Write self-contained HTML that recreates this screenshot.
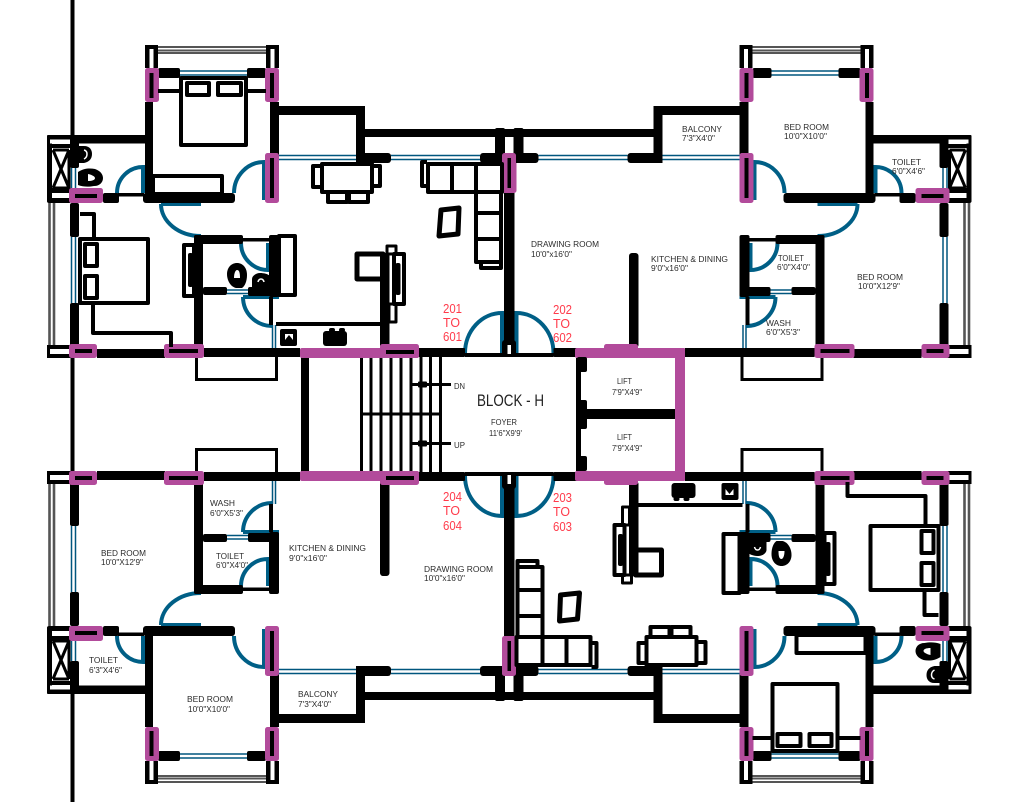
<!DOCTYPE html>
<html><head><meta charset="utf-8"><style>
html,body{margin:0;padding:0;background:#fff}
svg{display:block}
.l{font-family:"Liberation Sans",sans-serif;font-size:8.5px;fill:#2c2c2c}
.r{font-family:"Liberation Sans",sans-serif;font-size:13px;fill:#ff3b4b}
</style></head><body>
<svg width="1012" height="802" viewBox="0 0 1012 802" xmlns="http://www.w3.org/2000/svg">
<defs>
<g id="u">
 <!-- railings -->
 <g stroke="#555" stroke-width="2" fill="none">
  <path d="M158 47H266M158 50.5H266M158 53H266"/>
  <path d="M49.5 203V345M54 203V345" stroke-width="2.6"/>
 </g>
 <!-- blue windows -->
 <g stroke="#00567e" stroke-width="1.5" fill="none">
  <path d="M180 71H247M180 75H247"/>
  <path d="M279 155.500H357M279 159.500H357M391 155.500H480M391 159.500H480"/>
  <path d="M71.500 237V303M75.500 237V303M71.500 168V188M75.500 168V188"/>
  <path d="M227 290H248M227 293.500H248M272.500 325V348M275.500 325V348"/>
 </g>
 <!-- doors -->
 <g stroke="#005f86" stroke-width="4" fill="none">
  <path d="M117 193A26 26 0 0 1 143 167V193"/>
  <path d="M234 193A30 31 0 0 1 264 162V200"/>
  <path d="M161 204A40 32 0 0 0 201 236M161 204H201"/>
  <path d="M241 243A27 27 0 0 0 268 270V243"/>
  <path d="M243 297A29 29 0 0 0 272 326M243 297H279"/>
  <path d="M465 353A37 40 0 0 1 502 313V353"/>
 </g>
 <!-- walls -->
 <g fill="#000">
  <path d="M145 45H158V68H145ZM149.500 49V68H153.500V49Z" fill-rule="evenodd"/>
  <path d="M266 45H279V68H266ZM270.500 49V68H274.500V49Z" fill-rule="evenodd"/>
  <rect x="158" y="68" width="22" height="10" rx="2"/><rect x="247" y="68" width="19" height="10" rx="2"/>
  <rect x="145" y="102" width="8" height="98"/>
  <rect x="270" y="102" width="9" height="58"/>
  <rect x="270" y="106" width="95" height="9" rx="1"/>
  <rect x="356" y="106" width="9" height="57"/>
  <rect x="356" y="153" width="35" height="10" rx="3"/>
  <rect x="360" y="129" width="150" height="8"/>
  <rect x="480" y="153" width="30" height="10" rx="3"/>
  <rect x="495" y="128" width="10" height="30" rx="2"/>
  <rect x="504" y="193" width="6" height="155"/>
  <rect x="47" y="135" width="105" height="8.500" rx="2"/>
  <rect x="47" y="135" width="5" height="67" rx="1"/>
  <rect x="70" y="138" width="9" height="30" rx="2"/>
  <rect x="47" y="144" width="23" height="4"/>
  <rect x="47" y="188" width="24" height="5"/><rect x="47" y="198" width="24" height="5" rx="2"/>
  <rect x="103" y="193" width="16" height="10" rx="2"/>
  <rect x="118" y="193" width="26" height="3.500"/>
  <rect x="143" y="193" width="92" height="10" rx="3"/>
  <rect x="70" y="203" width="9" height="34" rx="2"/>
  <rect x="70" y="303" width="9" height="43" rx="2"/>
  <rect x="47" y="345" width="24" height="4"/><rect x="47" y="354" width="24" height="4"/><rect x="47" y="345" width="3" height="13" rx="1"/>
  <rect x="194" y="235" width="9" height="112" rx="2"/>
  <rect x="194" y="235" width="49" height="9" rx="2"/>
  <rect x="243" y="238" width="27" height="3.500"/>
  <rect x="269" y="235" width="10" height="62" rx="2"/>
  <rect x="203" y="287" width="24" height="8" rx="2"/>
  <rect x="248" y="287" width="31" height="9" rx="2"/>
  <rect x="269" y="297" width="4" height="28"/>
  <rect x="380" y="253" width="9.500" height="95" rx="3"/>
  <rect x="97" y="349" width="68" height="9"/>
  <rect x="204" y="348" width="96" height="9"/>
  <rect x="415" y="348" width="50" height="9" rx="1"/>
  <rect x="465" y="353" width="45" height="4"/>
  <rect x="502.500" y="340" width="14" height="16" rx="3"/>
  <rect x="195" y="357" width="3" height="24"/><rect x="275" y="357" width="3" height="24"/><rect x="195" y="378" width="83" height="3" rx="1"/>
 </g>
 <rect x="507.500" y="345" width="3.500" height="9" fill="#fff"/>
 <rect x="505" y="140" width="5" height="13" fill="#fff"/>
 <rect x="50" y="139.500" width="20" height="4" fill="#fff"/>
 <!-- shaft X -->
 <g stroke="#000" stroke-width="3" fill="none"><path d="M53 150L69 188M69 150L53 188M53 150H69M53 188H69M69 150V188"/></g>
 <!-- magenta -->
 <g fill="#b24b9b">
  <rect x="145" y="68" width="14" height="34" rx="2.500"/><rect x="265" y="68" width="14" height="34" rx="2.500"/>
  <rect x="265" y="153" width="14" height="50" rx="2.500"/>
  <rect x="69" y="188" width="34" height="15" rx="2.500"/>
  <rect x="69" y="344" width="28" height="14" rx="2.500"/>
  <rect x="164" y="344" width="40" height="14" rx="2.500"/>
  <rect x="502.500" y="153" width="14" height="40" rx="2.500"/>
 </g>
 <g fill="#000">
  <rect x="149.500" y="73" width="4" height="25"/><rect x="270" y="73" width="4" height="25"/>
  <rect x="270" y="158" width="4" height="40"/>
  <rect x="75" y="194" width="22" height="4"/>
  <rect x="75" y="349" width="17" height="4"/>
  <rect x="169" y="349" width="29" height="4"/>
  <rect x="507.500" y="158" width="3.500" height="30"/>
 </g>
</g>
<g id="f">
 <g fill="none" stroke="#000" stroke-width="4" stroke-linejoin="round">
  <rect x="181" y="78" width="65" height="67"/>
  <rect x="187" y="83" width="22" height="12"/><rect x="218" y="83" width="23" height="12"/>
  <path d="M158 91H181M247 91H266"/>
  <rect x="153" y="176" width="69" height="18"/>
  <rect x="80" y="239" width="68" height="64"/>
  <rect x="85" y="244" width="12" height="22"/><rect x="85" y="276" width="12" height="22"/>
  <path d="M80 214H94V238M93 303V333H171V347"/>
  <rect x="322" y="164" width="50" height="28"/>
  <rect x="313" y="166" width="9" height="21"/><rect x="372" y="166" width="8" height="20"/>
  <rect x="328" y="192" width="19" height="10"/><rect x="349" y="192" width="19" height="10"/>
  <rect x="428" y="164" width="74" height="28"/>
  <path d="M452 164V192M476 164V262M476 192V262H502M476 213H502M476 239H502M501 192V268H481V262"/>
  <path d="M427 162H422V186H428"/>
  <path d="M441 210L459 208L458 234L439 236Z" stroke-width="5"/>
  <rect x="357" y="254" width="26" height="25" stroke-width="5"/>
  <rect x="394" y="254" width="10" height="50"/>
  <rect x="387" y="246" width="9" height="8" stroke-width="3"/><rect x="389" y="304" width="7" height="18" stroke-width="3"/>
  <rect x="279" y="236" width="16" height="59"/>
  <rect x="184" y="245" width="10" height="51"/>
 </g>
 <g fill="#000">
  <rect x="395.500" y="263" width="5" height="32" rx="2"/>
  <rect x="276" y="322" width="104" height="4"/>
  <rect x="280" y="329" width="17" height="17" rx="2"/>
  <rect x="323" y="331" width="24" height="15" rx="3"/>
  <rect x="329" y="328" width="6" height="4" rx="2"/><rect x="339" y="328" width="6" height="4" rx="2"/>
  <rect x="188" y="253" width="5" height="34" rx="2"/>
  <path d="M237 263C231 263 227 268 227 274C227 281 231 287 236 288H242C245 286 247 281 247 275C247 268 243 263 237 263Z"/>
  <path d="M252 293V279C252 276 256 273 260 273C264 273 268 274 270 276V293Z"/>
  <path d="M78 146H84C90 146 92 150 92 154C92 159 89 162 84 163H78Z"/>
  <path d="M78 172C84 168 90 168 95 169C101 171 103 175 103 178C103 182 100 186 94 186C89 187 83 187 78 185Z"/>
 </g>
 <g fill="#fff">
  <path d="M234 278C234 272 236 270 237 270C239 270 240 272 240 278Z"/>
  <path d="M258 282C259 278 263 278 264 282" stroke="#fff" stroke-width="1.500" fill="none"/>
  <path d="M84 150C88 151 88 157 84 159" fill="none" stroke="#fff" stroke-width="1.500"/>
  <path d="M88 174C93 175 95 177 95 178C95 180 92 181 88 181Z"/>
  <rect x="285" y="334" width="8" height="6"/>
 </g>
 <path d="M285 340L289 335L293 340Z" fill="#000"/>
</g>
</defs>

<g fill="#000">
 <rect x="70.500" y="0" width="4" height="136"/>
 <rect x="70.500" y="357" width="4" height="115"/>
 <rect x="70.500" y="693" width="4" height="109"/>
</g>

<use href="#u"/>
<use href="#u" transform="translate(1018.5 0) scale(-1 1)"/>
<use href="#u" transform="translate(0 829) scale(1 -1)"/>
<use href="#u" transform="translate(1018.5 829) scale(-1 -1)"/>
<use href="#f"/>
<use href="#f" transform="translate(1018.5 829) scale(-1 -1)"/>

<!-- stairs -->
<g fill="#000">
 <rect x="301" y="356" width="8" height="118"/>
 <g stroke="#000" stroke-width="3" fill="none">
  <path d="M361.500 357V472M371 357V472M381 357V472M391 357V472M401 357V472M411 357V472M421 357V472M430.500 357V472M440.500 357V472"/>
  <path d="M361 414H442"/>
  <path d="M412 384.500H451M412 443.500H451"/>
 </g>
 <rect x="418" y="381.500" width="9" height="6" rx="1"/>
 <rect x="418" y="440.500" width="9" height="6" rx="1"/>
</g>
<g fill="#b24b9b">
 <rect x="300" y="348" width="119" height="10" rx="2"/><rect x="380" y="344" width="39" height="14" rx="2.500"/>
 <rect x="300" y="471" width="119" height="10" rx="2"/><rect x="380" y="471" width="39" height="14" rx="2.500"/>
 <rect x="575" y="348" width="110" height="10" rx="2"/><rect x="604" y="344" width="34" height="14" rx="2.500"/>
 <rect x="575" y="471" width="110" height="10" rx="2"/><rect x="604" y="471" width="34" height="14" rx="2.500"/>
 <rect x="675" y="348" width="10" height="133" rx="1"/>
</g>
<g fill="#000">
 <rect x="386" y="350" width="28" height="4"/><rect x="386" y="476" width="28" height="4"/>
 <rect x="685" y="348" width="60" height="9"/><rect x="685" y="472" width="60" height="9"/>
 <rect x="576" y="358" width="5" height="113"/>
 <rect x="577" y="357" width="10" height="15" rx="2"/>
 <rect x="577" y="400" width="10" height="29" rx="2"/>
 <rect x="577" y="456" width="10" height="15" rx="2"/>
 <rect x="586" y="409" width="89" height="10"/>
</g>

<!-- red labels -->
<g class="r">
 <text class="r" x="443" y="313" textLength="19" lengthAdjust="spacingAndGlyphs">201</text>
 <text class="r" x="443" y="327" textLength="17" lengthAdjust="spacingAndGlyphs">TO</text>
 <text class="r" x="443" y="341" textLength="19" lengthAdjust="spacingAndGlyphs">601</text>
 <text class="r" x="553" y="314" textLength="19" lengthAdjust="spacingAndGlyphs">202</text>
 <text class="r" x="553" y="328" textLength="17" lengthAdjust="spacingAndGlyphs">TO</text>
 <text class="r" x="553" y="342" textLength="19" lengthAdjust="spacingAndGlyphs">602</text>
 <text class="r" x="443" y="501" textLength="19" lengthAdjust="spacingAndGlyphs">204</text>
 <text class="r" x="443" y="515" textLength="17" lengthAdjust="spacingAndGlyphs">TO</text>
 <text class="r" x="443" y="530" textLength="19" lengthAdjust="spacingAndGlyphs">604</text>
 <text class="r" x="553" y="502" textLength="19" lengthAdjust="spacingAndGlyphs">203</text>
 <text class="r" x="553" y="516" textLength="17" lengthAdjust="spacingAndGlyphs">TO</text>
 <text class="r" x="553" y="531" textLength="19" lengthAdjust="spacingAndGlyphs">603</text>
</g>

<!-- room labels -->
<text x="477" y="406" font-family="Liberation Sans, sans-serif" font-size="17" fill="#222" textLength="67" lengthAdjust="spacingAndGlyphs">BLOCK - H</text>
<text class="l" x="491" y="425" textLength="26" lengthAdjust="spacingAndGlyphs">FOYER</text>
<text class="l" x="489" y="436" textLength="33" lengthAdjust="spacingAndGlyphs">11'6"X9'9'</text>
<text class="l" x="454" y="389" textLength="11" lengthAdjust="spacingAndGlyphs">DN</text>
<text class="l" x="454" y="448" textLength="11" lengthAdjust="spacingAndGlyphs">UP</text>
<text class="l" x="617" y="384" textLength="15" lengthAdjust="spacingAndGlyphs">LIFT</text>
<text class="l" x="612" y="395" textLength="30" lengthAdjust="spacingAndGlyphs">7'9"X4'9"</text>
<text class="l" x="617" y="440" textLength="15" lengthAdjust="spacingAndGlyphs">LIFT</text>
<text class="l" x="612" y="451" textLength="30" lengthAdjust="spacingAndGlyphs">7'9"X4'9"</text>

<text class="l" x="682" y="132" textLength="40" lengthAdjust="spacingAndGlyphs">BALCONY</text>
<text class="l" x="682" y="141" textLength="33" lengthAdjust="spacingAndGlyphs">7'3"X4'0"</text>
<text class="l" x="784" y="130" textLength="45" lengthAdjust="spacingAndGlyphs">BED ROOM</text>
<text class="l" x="784" y="139" textLength="43" lengthAdjust="spacingAndGlyphs">10'0"X10'0"</text>
<text class="l" x="892" y="165" textLength="29" lengthAdjust="spacingAndGlyphs">TOILET</text>
<text class="l" x="892" y="174" textLength="33" lengthAdjust="spacingAndGlyphs">6'0"X4'6"</text>
<text class="l" x="778" y="261" textLength="26" lengthAdjust="spacingAndGlyphs">TOILET</text>
<text class="l" x="777" y="270" textLength="33" lengthAdjust="spacingAndGlyphs">6'0"X4'0"</text>
<text class="l" x="766" y="326" textLength="25" lengthAdjust="spacingAndGlyphs">WASH</text>
<text class="l" x="766" y="335" textLength="34" lengthAdjust="spacingAndGlyphs">6'0"X5'3"</text>
<text class="l" x="857" y="280" textLength="46" lengthAdjust="spacingAndGlyphs">BED ROOM</text>
<text class="l" x="858" y="289" textLength="42" lengthAdjust="spacingAndGlyphs">10'0"X12'9"</text>
<text class="l" x="651" y="262" textLength="77" lengthAdjust="spacingAndGlyphs">KITCHEN &amp; DINING</text>
<text class="l" x="651" y="271" textLength="37" lengthAdjust="spacingAndGlyphs">9'0"x16'0"</text>
<text class="l" x="531" y="247" textLength="68" lengthAdjust="spacingAndGlyphs">DRAWING ROOM</text>
<text class="l" x="531" y="257" textLength="41" lengthAdjust="spacingAndGlyphs">10'0"x16'0"</text>

<text class="l" x="210" y="506" textLength="25" lengthAdjust="spacingAndGlyphs">WASH</text>
<text class="l" x="210" y="516" textLength="33" lengthAdjust="spacingAndGlyphs">6'0"X5'3"</text>
<text class="l" x="216" y="559" textLength="28" lengthAdjust="spacingAndGlyphs">TOILET</text>
<text class="l" x="216" y="568" textLength="32" lengthAdjust="spacingAndGlyphs">6'0"X4'0"</text>
<text class="l" x="289" y="551" textLength="77" lengthAdjust="spacingAndGlyphs">KITCHEN &amp; DINING</text>
<text class="l" x="289" y="561" textLength="38" lengthAdjust="spacingAndGlyphs">9'0"x16'0"</text>
<text class="l" x="101" y="556" textLength="45" lengthAdjust="spacingAndGlyphs">BED ROOM</text>
<text class="l" x="101" y="565" textLength="42" lengthAdjust="spacingAndGlyphs">10'0"X12'9"</text>
<text class="l" x="89" y="663" textLength="29" lengthAdjust="spacingAndGlyphs">TOILET</text>
<text class="l" x="89" y="673" textLength="33" lengthAdjust="spacingAndGlyphs">6'3"X4'6"</text>
<text class="l" x="187" y="702" textLength="46" lengthAdjust="spacingAndGlyphs">BED ROOM</text>
<text class="l" x="188" y="712" textLength="42" lengthAdjust="spacingAndGlyphs">10'0"X10'0"</text>
<text class="l" x="298" y="697" textLength="40" lengthAdjust="spacingAndGlyphs">BALCONY</text>
<text class="l" x="298" y="707" textLength="33" lengthAdjust="spacingAndGlyphs">7'3"X4'0"</text>
<text class="l" x="424" y="572" textLength="69" lengthAdjust="spacingAndGlyphs">DRAWING ROOM</text>
<text class="l" x="424" y="581" textLength="41" lengthAdjust="spacingAndGlyphs">10'0"x16'0"</text>
</svg>
</body></html>
